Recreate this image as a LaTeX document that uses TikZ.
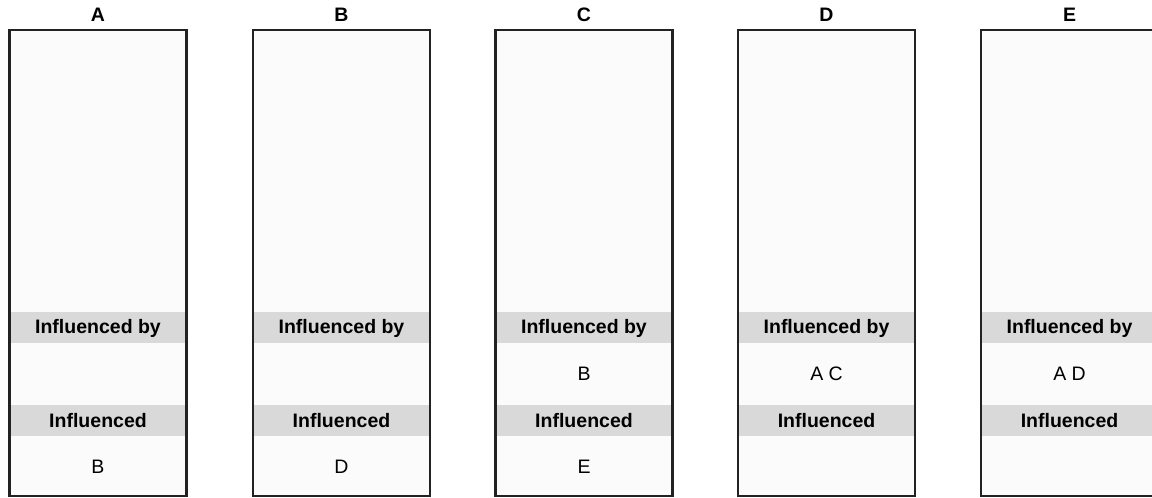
\documentclass[tikz,border=0pt]{standalone}
\usepackage{fontspec}
\setmainfont{Liberation Sans}
\definecolor{boxfill}{HTML}{FBFBFB}
\definecolor{bandgray}{HTML}{D9D9D9}
\definecolor{edge}{HTML}{222222}
\tikzset{
  colbox/.style={draw=edge,line width=2.2pt},
  band/.style={fill=bandgray},
  head/.style={font=\fontsize{19.5}{22}\selectfont\bfseries},
  entry/.style={font=\fontsize{19.5}{22}\selectfont}
}
\begin{document}
\begin{tikzpicture}[x=1pt,y=-1pt]
\useasboundingbox (0,0) rectangle (1152,498);
\clip (0,0) rectangle (1152,498);

% column A
\begin{scope}
\fill[boxfill] (9.5,30) rectangle (186.5,496);
\fill[band] (9.5,312) rectangle (186.5,343);
\fill[band] (9.5,405) rectangle (186.5,436);
\draw[colbox] (9.5,30) rectangle (186.5,496);
\node[head] (tA) at (98,15) {A};
\node[head] (byA) at (98,328) {Influenced by};
\node[head] (inA) at (98,421) {Influenced};
\node[entry] (oA) at (98,467) {B};
\end{scope}

% column B
\begin{scope}[xshift=243.5pt]
\fill[boxfill] (9.5,30) rectangle (186.5,496);
\fill[band] (9.5,312) rectangle (186.5,343);
\fill[band] (9.5,405) rectangle (186.5,436);
\draw[colbox] (9.5,30) rectangle (186.5,496);
\node[head] (tB) at (98,15) {B};
\node[head] (byB) at (98,328) {Influenced by};
\node[head] (inB) at (98,421) {Influenced};
\node[entry] (oB) at (98,467) {D};
\end{scope}

% column C
\begin{scope}[xshift=486pt]
\fill[boxfill] (9.5,30) rectangle (186.5,496);
\fill[band] (9.5,312) rectangle (186.5,343);
\fill[band] (9.5,405) rectangle (186.5,436);
\draw[colbox] (9.5,30) rectangle (186.5,496);
\node[head] (tC) at (98,15) {C};
\node[head] (byC) at (98,328) {Influenced by};
\node[entry] (iC) at (98,374) {B};
\node[head] (inC) at (98,421) {Influenced};
\node[entry] (oC) at (98,467) {E};
\end{scope}

% column D
\begin{scope}[xshift=728.5pt]
\fill[boxfill] (9.5,30) rectangle (186.5,496);
\fill[band] (9.5,312) rectangle (186.5,343);
\fill[band] (9.5,405) rectangle (186.5,436);
\draw[colbox] (9.5,30) rectangle (186.5,496);
\node[head] (tD) at (98,15) {D};
\node[head] (byD) at (98,328) {Influenced by};
\node[entry] (iD) at (98,374) {A C};
\node[head] (inD) at (98,421) {Influenced};
\end{scope}

% column E
\begin{scope}[xshift=971.5pt]
\fill[boxfill] (9.5,30) rectangle (186.5,496);
\fill[band] (9.5,312) rectangle (186.5,343);
\fill[band] (9.5,405) rectangle (186.5,436);
\draw[colbox] (9.5,30) rectangle (186.5,496);
\node[head] (tE) at (98,15) {E};
\node[head] (byE) at (98,328) {Influenced by};
\node[entry] (iE) at (98,374) {A D};
\node[head] (inE) at (98,421) {Influenced};
\end{scope}

\end{tikzpicture}
\end{document}
